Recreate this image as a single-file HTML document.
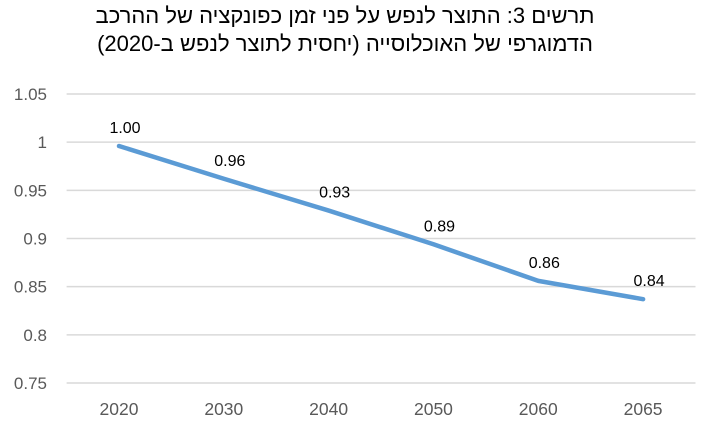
<!DOCTYPE html>
<html><head><meta charset="utf-8"><style>
body{margin:0;background:#fff;width:716px;height:426px;overflow:hidden;font-family:"Liberation Sans",sans-serif}
.title{position:absolute;left:0;width:690px;top:2px;text-align:center;direction:rtl;font-size:22px;line-height:28px;color:#000}
</style></head><body>
<div class="title">תרשים 3: התוצר לנפש על פני זמן כפונקציה של ההרכב<br>הדמוגרפי של האוכלוסייה (יחסית לתוצר לנפש ב-2020)</div>
<svg id="c" width="716" height="426" style="position:absolute;left:0;top:0"></svg>
<script>
const categories=["2020","2030","2040","2050","2060","2065"];
const values=[0.996,0.962,0.929,0.894,0.856,0.837];
const yTicks=[0.75,0.8,0.85,0.9,0.95,1,1.05];
const yTickLabels=["0.75","0.8","0.85","0.9","0.95","1","1.05"];
const svg=document.getElementById('c');
const NS="http://www.w3.org/2000/svg";
const L=66.6,R=695.5,T=94,B=383,ymin=0.75,ymax=1.05;
const step=(R-L)/categories.length;
const x=i=>L+step*(i+0.5);
const y=v=>B-(v-ymin)/(ymax-ymin)*(B-T);
function mk(t,a){const e=document.createElementNS(NS,t);for(const k in a)e.setAttribute(k,a[k]);svg.appendChild(e);return e;}
yTicks.forEach((v,i)=>{
 const g=mk('line',{x1:L,x2:R,y1:y(v),y2:y(v),stroke:'#d9d9d9','stroke-width':1.5});
 
 
 const t=mk('text',{x:47,y:y(v)+6,'text-anchor':'end','font-size':17,fill:'#595959'});
 t.textContent=yTickLabels[i];
 
 
});
categories.forEach((c,i)=>{
 const t=mk('text',{x:x(i),y:415,'text-anchor':'middle','font-size':17.5,fill:'#595959'});
 t.textContent=c;
 
 
});
const p=mk('polyline',{points:values.map((v,i)=>x(i)+','+y(v)).join(' '),fill:'none',stroke:'#5b9bd5','stroke-width':4.5,'stroke-linejoin':'round','stroke-linecap':'round'});


values.forEach((v,i)=>{
 const t=mk('text',{x:x(i)+6,y:y(v)-13,'text-anchor':'middle','font-size':16,fill:'#000'});
 t.textContent=v.toFixed(2);
 
 
});
</script>
</body></html>
